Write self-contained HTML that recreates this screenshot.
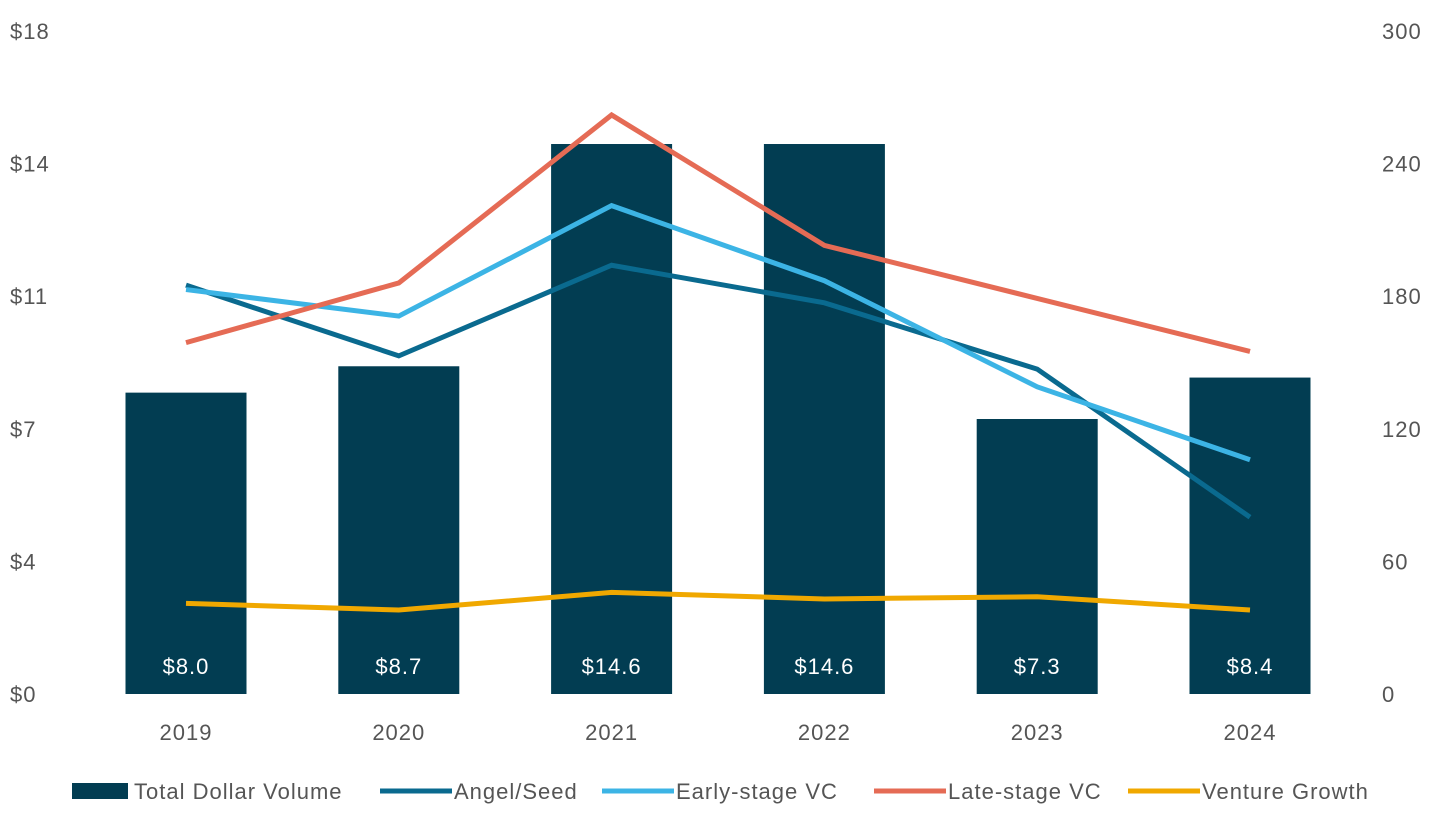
<!DOCTYPE html>
<html><head><meta charset="utf-8">
<style>
body{margin:0;background:#fff;font-family:"Liberation Sans",sans-serif;}
svg text{font-family:"Liberation Sans",sans-serif;fill:#555;font-size:22px;letter-spacing:1px;}
</style></head><body>
<svg id="chart" width="1442" height="823" xmlns="http://www.w3.org/2000/svg"></svg>
<script>
const categories=["2019","2020","2021","2022","2023","2024"];
const totalVolume=[8.0,8.7,14.6,14.6,7.3,8.4];
const volumeLabels=["$8.0","$8.7","$14.6","$14.6","$7.3","$8.4"];
const angelSeed=[185,153,194,177,147,80];
const earlyVC=[183,171,221,187,139,106];
const lateVC=[159,186,262,203,179,155];
const ventureGrowth=[41,38,46,43,44,38];
const leftTicks=["$0","$4","$7","$11","$14","$18"];
const rightTicks=[0,60,120,180,240,300];

const svg=document.getElementById('chart');
const NS="http://www.w3.org/2000/svg";
const y0=694,y1=31,x0=79.6,band=212.8;
const leftMax=17.6,rightMax=300;
function xC(i){return x0+band*(i+0.5);}
function yL(v){return y0-(v/leftMax)*(y0-y1);}
function yR(v){return y0-(v/rightMax)*(y0-y1);}
function mk(tag,attrs,txt){const e=document.createElementNS(NS,tag);for(const k in attrs)e.setAttribute(k,attrs[k]);if(txt!==undefined)e.textContent=txt;svg.appendChild(e);return e;}

leftTicks.forEach((t,i)=>{
  const e=mk('text',{x:10,y:y0-i*(y0-y1)/5+8},t);
  
  
});
rightTicks.forEach(t=>{
  const e=mk('text',{x:1382,y:yR(t)+8},String(t));
  
  
});
categories.forEach((c,i)=>{
  const e=mk('text',{x:xC(i),y:740,'text-anchor':'middle'},c);
  
  
  const b=mk('rect',{x:xC(i)-60.5,y:yL(totalVolume[i]),width:121,height:y0-yL(totalVolume[i]),fill:'#023d52'});
  
  
  const l=mk('text',{x:xC(i),y:674,'text-anchor':'middle',style:'fill:#fff'},volumeLabels[i]);
  
  
});
const series=[[angelSeed,'#0a6a8f','angel-seed-line'],[earlyVC,'#3cb4e5','early-stage-line'],[lateVC,'#e56b55','late-stage-line'],[ventureGrowth,'#f0a800','venture-growth-line']];
series.forEach(s=>{
  const p=mk('polyline',{points:s[0].map((v,i)=>xC(i)+','+yR(v)).join(' '),fill:'none',stroke:s[1],'stroke-width':5});
  
  
});
const legend=[['rect','#023d52','Total Dollar Volume',72],['line','#0a6a8f','Angel/Seed',380],['line','#3cb4e5','Early-stage VC',602],['line','#e56b55','Late-stage VC',874],['line','#f0a800','Venture Growth',1128]];
legend.forEach(l=>{
  let m;
  if(l[0]==='rect') m=mk('rect',{x:l[3],y:783,width:56,height:16,fill:l[1]});
  else m=mk('line',{x1:l[3],x2:l[3]+72,y1:791,y2:791,stroke:l[1],'stroke-width':5});
  
  
  const t=mk('text',{x:l[0]==='rect'?l[3]+62:l[3]+74,y:799},l[2]);
  
  
});
</script>
</body></html>
